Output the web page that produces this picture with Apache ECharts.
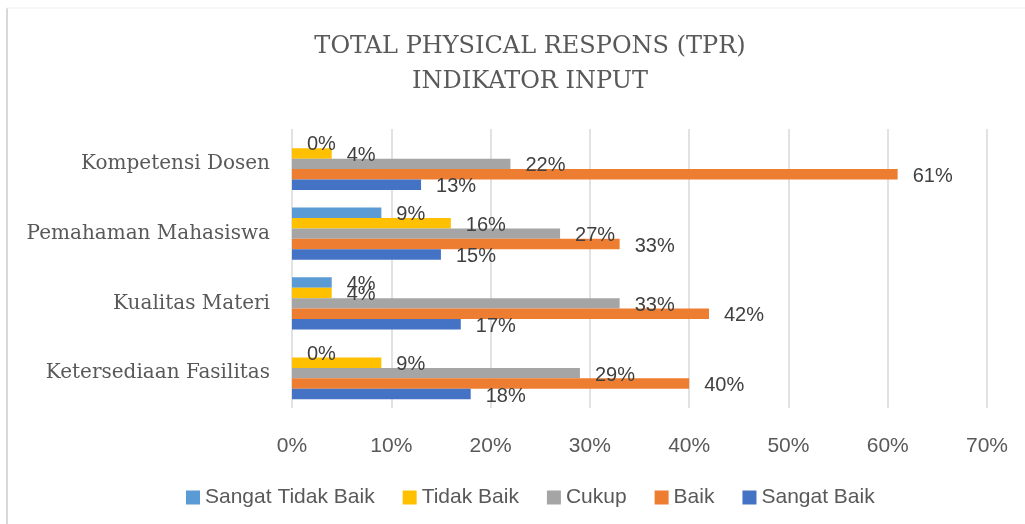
<!DOCTYPE html>
<html>
<head>
<meta charset="utf-8">
<script src="https://cdn.jsdelivr.net/npm/echarts@6/dist/echarts.min.js"></script>
<style>
  html, body { margin: 0; padding: 0; background: #fff; }
  #myecharts { width: 1025px; height: 524px; }
</style>
</head>
<body>
<div id="myecharts"></div>
<script>
// data (percent)
var categories = ['Ketersediaan Fasilitas', 'Kualitas Materi', 'Pemahaman Mahasiswa', 'Kompetensi Dosen'];
var sangatTidakBaik = [0, 4, 9, 0];
var tidakBaik = [9, 4, 16, 4];
var cukup = [29, 33, 27, 22];
var baik = [40, 42, 33, 61];
var sangatBaik = [18, 17, 15, 13];
var seriesNames = ['Sangat Tidak Baik', 'Tidak Baik', 'Cukup', 'Baik', 'Sangat Baik'];
var colors = ['#5B9BD5', '#FFC000', '#A5A5A5', '#ED7D31', '#4472C4'];

var myChart = echarts.init(document.getElementById('myecharts'));

function makeSeries(name, data, color) {
    return {
        name: name,
        type: 'bar',
        data: data,
        barGap: '0%',
        barCategoryGap: '25%',
        itemStyle: { color: color },
        label: {
            show: true,
            position: 'right',
            distance: 15,
            offset: [0, 2],
            formatter: '{c}%',
            fontFamily: 'Liberation Sans',
            fontSize: 20,
            color: '#404040'
        }
    };
}

var option = {
    animation: false,
    title: {
        text: 'TOTAL PHYSICAL RESPONS (TPR)\nINDIKATOR INPUT',
        left: 525,
        textAlign: 'center',
        top: 24,
        textStyle: {
            fontFamily: 'DejaVu Serif',
            fontSize: 24,
            fontWeight: 'normal',
            color: '#595959',
            lineHeight: 35
        }
    },
    legend: {
        left: 181,
        top: 482,
        itemWidth: 14,
        itemHeight: 14,
        itemGap: 28,
        icon: 'rect',
        data: seriesNames,
        textStyle: {
            fontFamily: 'Liberation Sans',
            fontSize: 21,
            color: '#595959'
        }
    },
    grid: {
        left: 292,
        right: 38,
        top: 129,
        bottom: 116
    },
    xAxis: {
        type: 'value',
        min: 0,
        max: 70,
        interval: 10,
        axisLine: { show: false },
        axisTick: { show: false },
        splitLine: { lineStyle: { color: '#D9D9D9', width: 1.5 } },
        axisLabel: {
            formatter: '{value}%',
            margin: 28,
            fontFamily: 'Liberation Sans',
            fontSize: 21,
            color: '#595959'
        }
    },
    yAxis: {
        type: 'category',
        data: categories,
        axisLine: { show: false },
        axisTick: { show: false },
        axisLabel: {
            margin: 22,
            fontFamily: 'DejaVu Serif',
            fontSize: 20,
            color: '#595959'
        }
    },
    graphic: [
        { type: 'line', shape: { x1: 7, y1: 8, x2: 7, y2: 524 }, style: { stroke: '#D9D9D9', lineWidth: 2 } },
        { type: 'line', shape: { x1: 6, y1: 8, x2: 1025, y2: 8 }, style: { stroke: '#F0F0F0', lineWidth: 1 } }
    ],
    series: [
        makeSeries(seriesNames[0], sangatTidakBaik, colors[0]),
        makeSeries(seriesNames[1], tidakBaik, colors[1]),
        makeSeries(seriesNames[2], cukup, colors[2]),
        makeSeries(seriesNames[3], baik, colors[3]),
        makeSeries(seriesNames[4], sangatBaik, colors[4])
    ]
};

myChart.setOption(option);
</script>
</body>
</html>
